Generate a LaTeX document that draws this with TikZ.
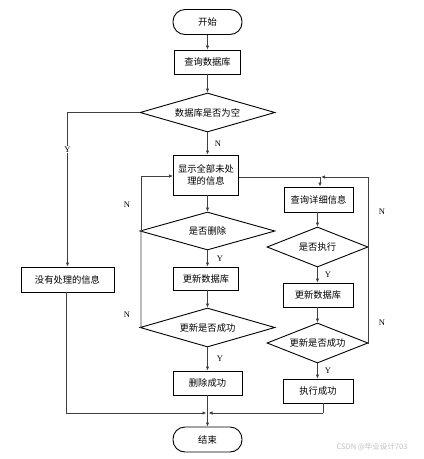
\documentclass[tikz,border=0pt]{standalone}
\usepackage{fontspec}
\setmainfont{Liberation Serif}
\newfontfamily\cjk{Noto Sans CJK SC}
\usetikzlibrary{shapes.geometric,arrows.meta}
\tikzset{
  base/.style={draw=black,line width=0.9pt,font=\cjk\fontsize{9.3}{12}\selectfont,inner sep=0pt,align=center},
  proc/.style={base,rectangle,minimum width=#1,minimum height=24pt},
  term/.style={base,rectangle,rounded corners=12pt,minimum width=69pt,minimum height=25pt},
  dec/.style={base,diamond,minimum width=#1,minimum height=39pt,aspect=2.6},
  conn/.style={draw=black!75,line width=0.8pt},
  arr/.style={conn,-{Latex[length=4pt,width=3.5pt]}},
  lab/.style={font=\fontsize{8.5}{9}\selectfont,inner sep=1pt}
}
\begin{document}
\begin{tikzpicture}[x=1pt,y=-1pt]
\useasboundingbox (0,0) rectangle (424,459);
\fill[white] (0,0) rectangle (424,459);
% main column
\node[term] (start) at (207.5,22) {开始};
\node[proc=66pt] (q1) at (207.5,62) {查询数据库};
\node[dec=135pt] (d1) at (207.5,112.5) {数据库是否为空};
\node[proc=65pt,minimum height=40pt,text width=62pt] (show) at (206,175) {显示全部未处\\理的信息};
\node[dec=135pt,minimum height=38pt] (d2) at (207.5,231) {是否删除};
\node[proc=65pt,minimum height=23pt] (u1) at (206,278.5) {更新数据库};
\node[dec=135pt] (d3) at (207.5,327.5) {更新是否成功};
\node[proc=69pt] (s1) at (207.5,383) {删除成功};
\node[term] (end) at (207.5,439.5) {结束};
% right column
\node[proc=69pt,minimum height=25pt] (r1) at (318.5,199.5) {查询详细信息};
\node[dec=101pt,minimum height=40pt] (d4) at (317.5,247) {是否执行};
\node[proc=70pt] (u2) at (318,295) {更新数据库};
\node[dec=101pt,minimum height=40pt] (d5) at (317.5,343) {更新是否成功};
\node[proc=70pt] (s2) at (318,391) {执行成功};
% left
\node[proc=93pt,minimum height=25pt] (n1) at (67.5,279.5) {没有处理的信息};
% junction coordinates
\coordinate (jtop) at (320,177);
\coordinate (jm) at (207.5,413);
% main connectors
\draw[arr] (start) -- (q1);
\draw[arr] (q1) -- (d1);
\draw[arr] (d1.south) -- (d1.south |- show.north) node[lab,pos=0.5,right=6pt] {N};
\draw[arr] (show.south -| d2.north) -- (d2.north);
\draw[arr] (d2.south) -- (d2.south |- u1.north) node[lab,pos=0.5,right=8pt] {Y};
\draw[arr] (u1.south -| d3.north) -- (d3.north);
\draw[arr] (d3.south) -- (d3.south |- s1.north) node[lab,pos=0.5,right=8pt] {Y};
\draw[arr] (s1) -- (end);
% empty branch
\draw[arr] (d1.west) -| (n1.north) node[lab,pos=0.62,fill=white] {Y};
\draw[conn] (n1.south -| 66,0) -- (66,413) coordinate (lb);
\draw[arr] (lb) -- ([xshift=-1pt]jm);
% left loops
\draw[arr] (d2.west) -- (141,231) -- (141,176) -- (show.west |- 0,176);
\draw[conn] (d3.west) -- (141,327) -- (141,231);
\node[lab] (nl1) at (127,205) {N};
\node[lab] (nl2) at (127,315) {N};
% right branch
\draw[conn] (show.east |- jtop) -- (jtop);
\draw[arr] (jtop) -- (jtop |- r1.north);
\draw[arr] (d4.east) -- (368,247) -- (368,177) -- ([xshift=1pt]jtop);
\draw[conn] (d5.east) -- (368,343) -- (368,247);
\node[lab] (nr1) at (382,212) {N};
\node[lab] (nr2) at (382,323) {N};
\draw[arr] (r1.south -| d4.north) -- (d4.north);
\draw[arr] (d4.south) -- (d4.south |- u2.north) node[lab,pos=0.5,right=6pt] {Y};
\draw[arr] (u2.south -| d5.north) -- (d5.north);
\draw[arr] (d5.south) -- (d5.south |- s2.north) node[lab,pos=0.5,right=6pt] {Y};
\draw[conn] (s2.south -| 323,0) -- (323,413) coordinate (rb);
\draw[arr] (rb) -- ([xshift=1pt]jm);
% watermark
\node[font=\cjk\fontsize{7.5}{9}\selectfont,text=black!25,inner sep=0pt] (wm) at (372,447) {CSDN @毕业设计703};
\end{tikzpicture}
\end{document}
